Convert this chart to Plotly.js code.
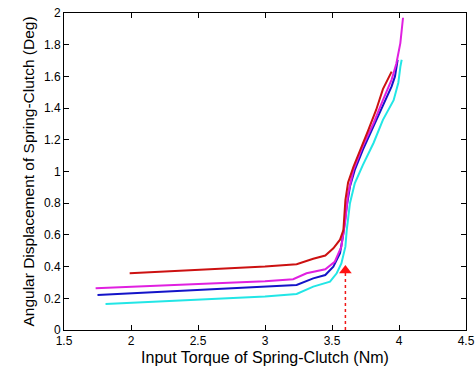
<!DOCTYPE html>
<html><head><meta charset="utf-8">
<script src="https://cdn.plot.ly/plotly-3.0.1.min.js"></script>
<style>body{margin:0;background:#fff}#c{width:476px;height:370px}</style>
</head><body><div id="c"></div>
<script>
const redX = [1.99,2.5,3.0,3.236,3.36,3.45,3.51,3.56,3.585,3.60,3.62,3.66,3.71,3.77,3.83,3.88,3.945];
const redY = [0.358,0.378,0.400,0.415,0.45,0.47,0.515,0.57,0.63,0.82,0.93,1.03,1.14,1.26,1.39,1.52,1.63];
const magX = [1.736,2.5,3.0,3.21,3.31,3.45,3.52,3.57,3.60,3.62,3.66,3.73,3.81,3.88,3.945,3.98,4.01,4.03];
const magY = [0.263,0.290,0.308,0.32,0.358,0.383,0.43,0.526,0.695,0.86,1.01,1.16,1.305,1.45,1.58,1.68,1.81,1.97];
const bluX = [1.75,2.5,3.0,3.236,3.36,3.45,3.51,3.56,3.585,3.61,3.634,3.67,3.73,3.81,3.88,3.945,3.97,3.99];
const bluY = [0.221,0.252,0.272,0.284,0.326,0.347,0.40,0.484,0.61,0.78,0.905,1.01,1.137,1.284,1.41,1.537,1.60,1.705];
const cyaX = [1.81,2.5,3.0,3.236,3.36,3.485,3.535,3.57,3.60,3.61,3.634,3.67,3.73,3.81,3.88,3.96,3.995,4.01,4.02];
const cyaY = [0.164,0.192,0.212,0.227,0.274,0.305,0.358,0.42,0.526,0.63,0.80,0.926,1.04,1.18,1.326,1.45,1.56,1.66,1.705];
const arrowX = [3.6,3.6];
const arrowY = [0,0.36];
const xTicks = [1.5,2,2.5,3,3.5,4,4.5];
const yTicks = [0,0.2,0.4,0.6,0.8,1,1.2,1.4,1.6,1.8,2];

const ln = (x,y,c)=>({x:x,y:y,mode:'lines',line:{color:c,width:2},hoverinfo:'skip'});
const data = [
  ln(cyaX,cyaY,'#22e6e6'),
  ln(bluX,bluY,'#1414c8'),
  ln(magX,magY,'#e020e0'),
  ln(redX,redY,'#cc1111'),
  {x:arrowX,y:arrowY,mode:'lines',line:{color:'#f01818',width:1.5,dash:'dot'}},
  {x:[3.6],y:[0.375],mode:'markers',marker:{symbol:'triangle-up',size:11,color:'#ff1010'}}
];
const axisCommon = {showgrid:false,zeroline:false,showline:true,linecolor:'#000',linewidth:1,
  mirror:'ticks',ticks:'inside',ticklen:5,tickcolor:'#000',
  tickfont:{family:'Liberation Sans, Arial, sans-serif',size:12,color:'#000'}};
const layout = {
  width:476,height:370,margin:{l:64,r:10,t:13,b:40},
  paper_bgcolor:'#fff',plot_bgcolor:'#fff',showlegend:false,
  xaxis:Object.assign({},axisCommon,{range:[1.5,4.5],tickvals:xTicks,ticktext:xTicks.map(String),
    title:{text:'Input Torque of Spring-Clutch (Nm)',standoff:4,font:{family:'Liberation Sans, Arial, sans-serif',size:16,color:'#000'}}}),
  yaxis:Object.assign({},axisCommon,{range:[0,2],tickvals:yTicks,ticktext:yTicks.map(String),
    title:{text:'Angular Displacement of Spring-Clutch (Deg)',standoff:5,font:{family:'Liberation Sans, Arial, sans-serif',size:15.5,color:'#000'}}})
};
Plotly.newPlot('c',data,layout,{staticPlot:true,displayModeBar:false});
</script></body></html>
